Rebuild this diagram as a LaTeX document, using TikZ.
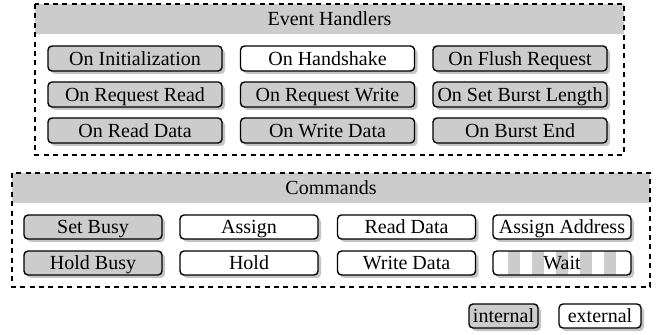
\documentclass[tikz,border=0pt]{standalone}
\usepackage{fontspec}
\setmainfont{Liberation Serif}
\definecolor{boxgray}{HTML}{CCCCCC}
\definecolor{shadowgray}{HTML}{C4C4C4}
\usetikzlibrary{shadows}

\begin{document}
\begin{tikzpicture}[
  x=0.5pt, y=-0.5pt, font=\rmfamily,
  cmdbox/.style={rectangle, rounded corners=2pt, draw=black, line width=0.7pt, minimum height=12.5pt, inner sep=0pt, text height=8pt, text depth=1.4pt, drop shadow={shadow xshift=1.5pt, shadow yshift=-1.5pt, fill=shadowgray, opacity=1}},
  intbox/.style={cmdbox, fill=boxgray},
  extbox/.style={cmdbox, fill=white},
  groupframe/.style={draw=black, line width=0.6pt, dash pattern=on 2.5pt off 2.2pt},
]
\useasboundingbox (0,0) rectangle (656,335);
% event handlers
\fill[boxgray] (35,4) rectangle (624,34);
\draw[groupframe] (35,4) rectangle (624,155);
\node (evhead) at (329.5,19) {Event Handlers};
\node[intbox, minimum width=87pt] (init) at (135,58.5) {On Initialization};
\node[extbox, minimum width=87pt] (hshake) at (327.5,58.5) {On Handshake};
\node[intbox, minimum width=87pt] (flush) at (520,58.5) {On Flush Request};
\node[intbox, minimum width=87pt] (reqrd) at (135,94.5) {On Request Read};
\node[intbox, minimum width=87pt] (reqwr) at (327.5,94.5) {On Request Write};
\node[intbox, minimum width=87pt] (burstlen) at (520,94.5) {On Set Burst Length};
\node[intbox, minimum width=87pt] (rddata) at (135,130.5) {On Read Data};
\node[intbox, minimum width=87pt] (wrdata) at (327.5,130.5) {On Write Data};
\node[intbox, minimum width=87pt] (burstend) at (520,130.5) {On Burst End};
% commands
\fill[boxgray] (12,173) rectangle (650,203);
\draw[groupframe] (12,173) rectangle (650,287);
\node (cmdhead) at (331,188) {Commands};
\node[intbox, minimum width=69pt, minimum height=12pt] (setbusy) at (93,227) {Set Busy};
\node[extbox, minimum width=69pt, minimum height=12pt] (assign) at (249,227) {Assign};
\node[extbox, minimum width=69pt, minimum height=12pt] (readdata) at (406.5,227) {Read Data};
\node[extbox, minimum width=69pt, minimum height=12pt] (assignaddr) at (562,227) {Assign Address};
\node[intbox, minimum width=69pt, minimum height=12pt] (holdbusy) at (93,263) {Hold Busy};
\node[extbox, minimum width=69pt, minimum height=12pt] (hold) at (249,263) {Hold};
\node[extbox, minimum width=69pt, minimum height=12pt] (writedata) at (406.5,263) {Write Data};
\node[extbox, minimum width=69pt, minimum height=12pt, path picture={
  \foreach \k in {0,...,4}
    \fill[boxgray, sharp corners] ([xshift={(-27+12*\k)*1pt}]path picture bounding box.south) rectangle ([xshift={(-21+12*\k)*1pt}]path picture bounding box.north);
}] (wait) at (562,263) {Wait};
% legend
\node[intbox, minimum width=34.5pt, minimum height=12pt] (internal) at (503.5,316) {internal};
\node[extbox, minimum width=41pt, minimum height=12pt] (external) at (600,316) {external};
\end{tikzpicture}
\end{document}
